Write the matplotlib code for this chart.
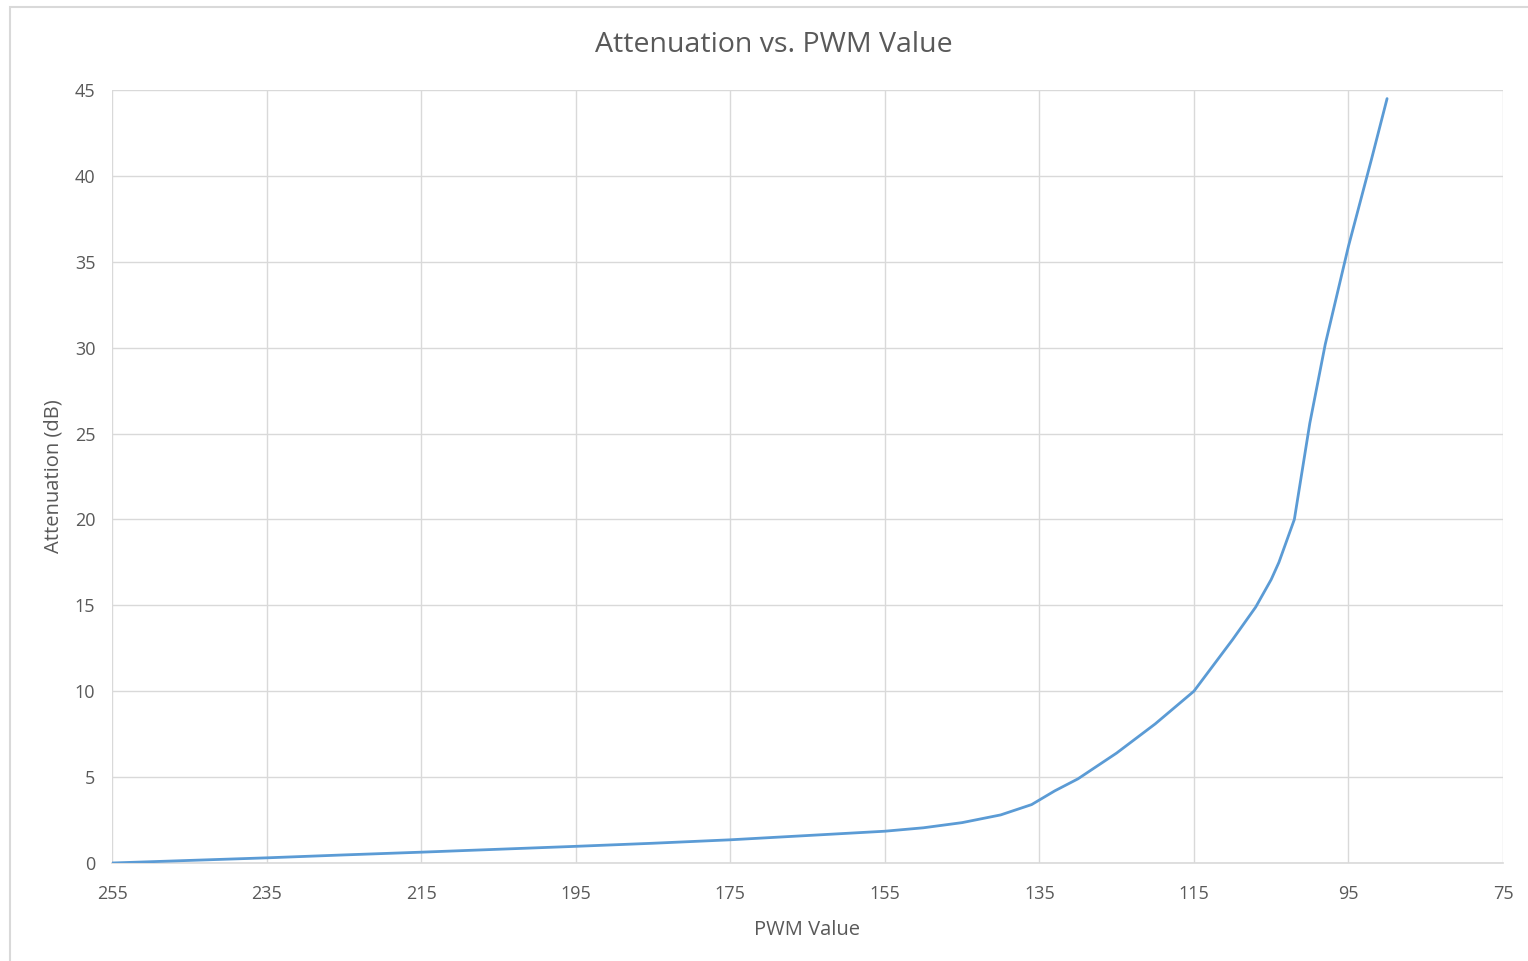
import matplotlib.pyplot as plt
from matplotlib.patches import Rectangle

# PWM setting vs measured attenuation
pwm = [255, 245, 235, 225, 215, 205, 195, 185, 175, 165, 155, 150, 145, 140,
       136, 133, 130, 125, 120, 115, 113, 110, 107, 105, 104, 102, 100, 98,
       95, 92, 90]
atten_db = [0.0, 0.15, 0.3, 0.47, 0.63, 0.8, 0.97, 1.15, 1.35, 1.6, 1.85, 2.05,
            2.35, 2.8, 3.4, 4.2, 4.9, 6.4, 8.1, 10.0, 11.2, 13.0, 14.9, 16.5,
            17.5, 20.0, 25.6, 30.2, 35.9, 41.0, 44.5]

x_ticks = [255, 235, 215, 195, 175, 155, 135, 115, 95, 75]
y_ticks = [0, 5, 10, 15, 20, 25, 30, 35, 40, 45]

plt.rcParams['font.family'] = ['Open Sans', 'DejaVu Sans']
text_col = "#595959"
grid_col = "#D9D9D9"

fig = plt.figure(figsize=(15.28, 9.61), dpi=100)
ax = fig.add_axes([112 / 1528, 1 - 863 / 961, (1503 - 112) / 1528, (863 - 90) / 961])

ax.plot(pwm, atten_db, color="#5B9BD5", linewidth=2.0, solid_capstyle="round",
        solid_joinstyle="round", zorder=3)

ax.set_xlim(255, 75)
ax.set_ylim(0, 45)
ax.set_xticks(x_ticks)
ax.set_yticks(y_ticks)
ax.grid(True, color=grid_col, linewidth=1.0)
ax.set_axisbelow(True)
for side in ["top", "right", "left"]:
    ax.spines[side].set_visible(False)
ax.spines["bottom"].set_color(grid_col)
ax.spines["bottom"].set_linewidth(1.2)
ax.tick_params(length=0, labelsize=13, colors=text_col)
ax.tick_params(axis="x", pad=16)
ax.tick_params(axis="y", pad=12)

ax.set_xlabel("PWM Value", fontsize=14.5, color=text_col, labelpad=12)
ax.set_ylabel("Attenuation (dB)", fontsize=14.5, color=text_col, labelpad=8)
fig.text(774 / 1528, 1 - 45 / 961, "Attenuation vs. PWM Value", fontsize=20.5,
         color=text_col, ha="center", va="center")

# chart area frame
fig.patches.append(Rectangle((10 / 1528, -0.1), 1.2, 1.1 - 7 / 961, transform=fig.transFigure,
                             fill=False, edgecolor=grid_col, linewidth=1.5))

fig.savefig("out.png", dpi=100, facecolor="white")
